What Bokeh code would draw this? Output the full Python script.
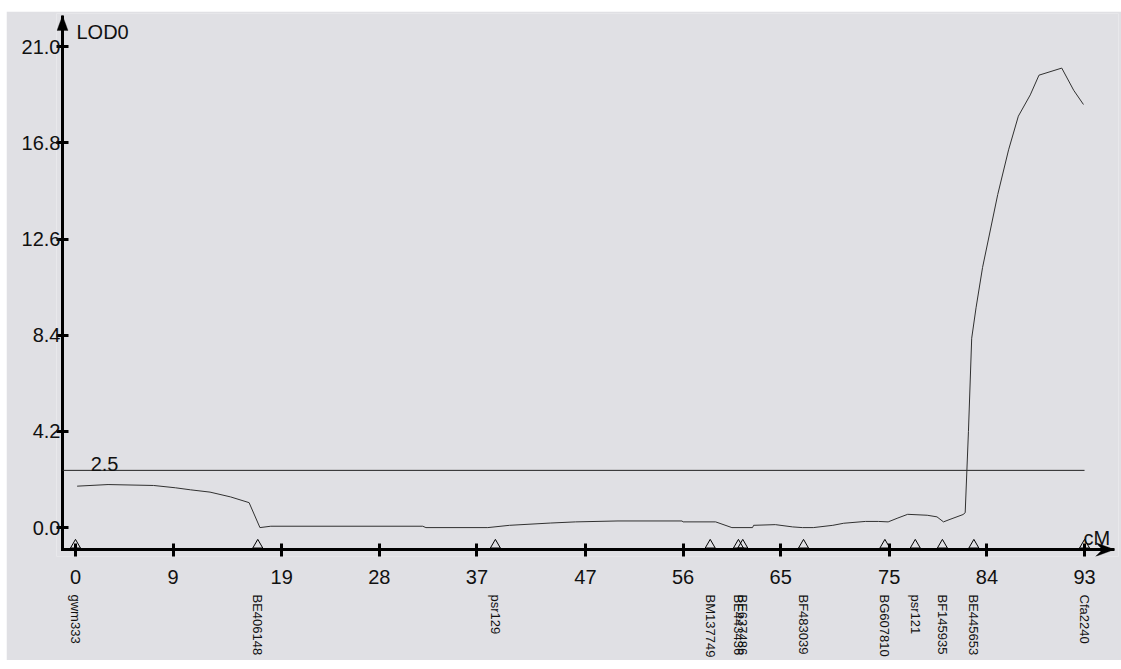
import math
from bokeh.plotting import figure
from bokeh.layouts import column, row
from bokeh.models import (FixedTicker, LinearAxis, Range1d, Label, Spacer,
                          PolyAnnotation, NumeralTickFormatter)
from bokeh.embed import file_html
from bokeh.resources import INLINE

# ---------------- data ----------------
position_cM = [0.15, 3.0, 7.2, 9.2, 10.6, 12.4, 14.3, 16.0, 17.0, 18.0, 32.0, 32.3,
               38.0, 40.0, 43.8, 46.1, 50.0, 55.9, 56.0, 59.0, 60.5, 62.4, 62.5,
               64.5, 66.1, 67.0, 68.0, 69.8, 70.8, 72.8, 74.0, 74.9, 75.8, 76.7,
               78.5, 79.4, 80.0, 80.6, 81.8, 82.0, 82.3, 82.6, 83.0, 83.6, 85.0,
               86.0, 86.9, 88.0, 88.8, 90.9, 92.0, 92.9]
lod = [1.81, 1.88, 1.84, 1.74, 1.65, 1.55, 1.34, 1.09, 0.0, 0.06, 0.06, 0.0,
       0.0, 0.10, 0.20, 0.25, 0.29, 0.29, 0.25, 0.25, 0.0, 0.0, 0.10,
       0.13, 0.03, 0.0, 0.0, 0.10, 0.19, 0.27, 0.27, 0.25, 0.42, 0.58,
       0.54, 0.47, 0.25, 0.36, 0.57, 0.65, 4.2, 8.27, 9.6, 11.36, 14.55,
       16.5, 17.97, 18.9, 19.76, 20.07, 19.1, 18.48]

x_ticks = [0, 9, 19, 28, 37, 47, 56, 65, 75, 84, 93]
y_ticks = [0.0, 4.2, 8.4, 12.6, 16.8, 21.0]

marker_names = ["gwm333", "BE406148", "psr129", "BM137749", "BE443436",
                "BE637486", "BF483039", "BG607810", "psr121", "BF145935",
                "BE445653", "Cfa2240"]
marker_cM = [0.0, 16.8, 38.7, 58.5, 61.1, 61.5, 67.1, 74.6, 77.4, 79.9, 82.8, 93.0]

threshold = 2.5
chrom_end = 93.0
y_title = "LOD0"
x_title = "cM"

# ---------------- style / geometry ----------------
BG = "#E0E0E4"
FONT = "Liberation Sans"
x_lo, x_hi = -1.751, 96.13          # frame extent (cM)
y_lo, y_hi = -1.262, 22.454         # frame extent (LOD)
FRAME_W, FRAME_H = 1062, 545
px_x = (x_hi - x_lo) / FRAME_W      # data units per pixel (x)
px_y = (y_hi - y_lo) / FRAME_H      # data units per pixel (y)
x_axis_at = x_lo + 6 * px_x         # where the vertical axis line sits
y_axis_at = y_lo + 7 * px_y         # where the horizontal axis line sits
x_tip = x_hi - 4 * px_x             # tip of the cM arrow
y_tip = y_hi - 2 * px_y             # tip of the LOD arrow

p = figure(width=1115, height=649,
           x_range=Range1d(x_lo, x_hi), y_range=Range1d(y_lo, y_hi),
           output_backend="svg", toolbar_location=None,
           x_axis_location=None, y_axis_location=None,
           min_border_left=50, min_border_right=3,
           min_border_top=2, min_border_bottom=102,
           background_fill_color=BG, border_fill_color=BG,
           outline_line_color=None)
p.grid.visible = False

yaxis = LinearAxis(ticker=FixedTicker(ticks=y_ticks),
                   formatter=NumeralTickFormatter(format="0.0"),
                   axis_line_color=None,
                   major_tick_line_width=3, major_tick_in=12, major_tick_out=0,
                   minor_tick_line_color=None,
                   major_label_standoff=-4,
                   major_label_text_font=FONT,
                   major_label_text_font_size="20px",
                   major_label_text_color="#111111")
p.add_layout(yaxis, "left")

xaxis = LinearAxis(ticker=FixedTicker(ticks=x_ticks),
                   axis_line_color=None,
                   major_tick_line_width=3, major_tick_in=13, major_tick_out=0,
                   minor_tick_line_color=None,
                   major_label_standoff=13,
                   major_label_text_font=FONT,
                   major_label_text_font_size="20px",
                   major_label_text_color="#111111")
p.add_layout(xaxis, "below")

marker_axis = LinearAxis(ticker=FixedTicker(ticks=marker_cM),
                         major_label_overrides={c: n for c, n in zip(marker_cM, marker_names)},
                         axis_line_color=None, major_tick_line_color=None,
                         minor_tick_line_color=None,
                         major_tick_in=0, major_tick_out=0,
                         major_label_orientation=-math.pi / 2,
                         major_label_standoff=8,
                         major_label_text_font=FONT,
                         major_label_text_font_size="13px",
                         major_label_text_color="#111111")
p.add_layout(marker_axis, "below")

# axis lines
p.segment(x0=[x_axis_at], x1=[x_tip], y0=[y_axis_at], y1=[y_axis_at],
          line_color="black", line_width=3)
p.segment(x0=[x_axis_at], x1=[x_axis_at], y0=[y_axis_at - 1.5 * px_y], y1=[y_tip],
          line_color="black", line_width=3)

# threshold line
p.segment(x0=[x_axis_at], x1=[chrom_end], y0=[threshold], y1=[threshold],
          line_color="#222222", line_width=1)
p.add_layout(Label(x=1.4, y=threshold, text=f"{threshold}", y_offset=6,
                   text_baseline="alphabetic", text_font=FONT,
                   text_font_size="20px", text_color="#111111"))

# LOD curve
p.line(position_cM, lod, line_color="#303030", line_width=1)

# marker triangles on the axis
p.scatter(marker_cM, [y_axis_at + 4.4 * px_y] * len(marker_cM), marker="triangle",
          size=10, fill_alpha=0, line_color="black", line_width=1)

# axis arrow heads (sized in pixels, placed at the axis tips)
p.add_layout(PolyAnnotation(
    xs=[x_axis_at, x_axis_at - 5.5 * px_x, x_axis_at + 5.5 * px_x],
    ys=[y_tip, y_tip - 15 * px_y, y_tip - 15 * px_y],
    fill_color="black", fill_alpha=1, line_color="black", line_width=1))
p.add_layout(PolyAnnotation(
    xs=[x_tip, x_tip - 19 * px_x, x_tip - 12 * px_x, x_tip - 19 * px_x],
    ys=[y_axis_at, y_axis_at + 7 * px_y, y_axis_at, y_axis_at - 7 * px_y],
    fill_color="black", fill_alpha=1, line_color="black", line_width=1))

# axis titles
p.add_layout(Label(x=x_ticks[0], y=y_tip, text=y_title, x_offset=1, y_offset=-6,
                   text_baseline="top", text_font=FONT, text_font_size="20px",
                   text_color="#111111"))
p.add_layout(Label(x=chrom_end, y=y_axis_at, text=x_title, x_offset=-1, y_offset=12,
                   text_baseline="alphabetic", text_font=FONT, text_font_size="20px",
                   text_color="#111111"))

layout = column(Spacer(height=11), row(Spacer(width=6), p))
open("out.html", "w").write(file_html(layout, INLINE))
